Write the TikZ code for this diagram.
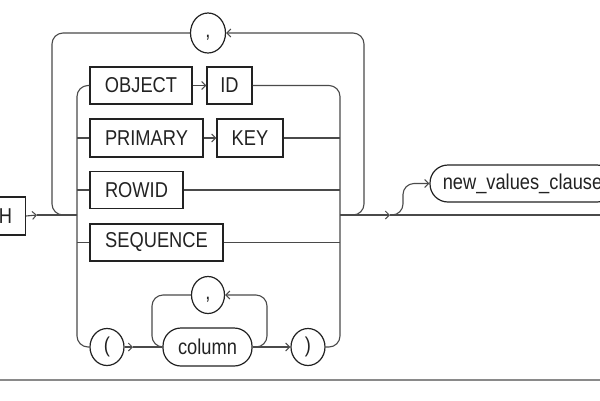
\documentclass[tikz,border=0pt]{standalone}
\usepackage{fontspec}
\setmainfont{Liberation Sans}[FakeStretch=0.85]
\usetikzlibrary{arrows.meta,shapes.geometric}
\definecolor{ln}{HTML}{4A4A4A}
\definecolor{bx}{HTML}{222222}
\definecolor{rule}{HTML}{8A8A8A}
\tikzset{
  conn/.style={draw=ln, line width=1.1pt, rounded corners=11pt},
  tip/.style={-{Straight Barb[length=4pt,width=8pt,line width=1pt]}},
  lbl/.style={font=\fontsize{21.5}{24}\selectfont, text=bx, inner sep=0pt},
  kw/.style={lbl, draw=bx, line width=1.2pt, rectangle},
  ov/.style={lbl, draw=bx, line width=1.2pt, ellipse},
  nt/.style={lbl, draw=bx, line width=1.2pt, rectangle, rounded corners=18pt},
}
\begin{document}
\begin{tikzpicture}[x=1pt,y=-1pt]
\useasboundingbox (0,0) rectangle (600,400);
% nodes
\node[kw, minimum width=40pt, minimum height=38pt, anchor=east] (with) at (26,216) {H};
\node[ov, minimum width=35pt, minimum height=40pt] (c1) at (208,33) {\smash{\raisebox{-4pt}{,}}};
\node[kw, minimum width=102pt, minimum height=37pt] (object) at (141,85.5) {OBJECT};
\node[kw, minimum width=45pt, minimum height=37pt] (id) at (229.5,85.5) {ID};
\node[kw, minimum width=113pt, minimum height=38pt] (primary) at (146.5,138) {PRIMARY};
\node[kw, minimum width=66pt, minimum height=38pt] (key) at (250,138) {KEY};
\node[kw, minimum width=93pt, minimum height=37pt] (rowid) at (136.5,190) {ROWID};
\node[kw, minimum width=133pt, minimum height=37pt] (sequence) at (156.5,242.5) {SEQUENCE};
\node[ov, minimum width=34pt, minimum height=37pt] (lp) at (107,347) {(};
\node[nt, minimum width=89pt, minimum height=38pt] (col) at (207.5,347) {column};
\node[ov, minimum width=34pt, minimum height=37pt] (rp) at (308,347) {)};
\node[ov, minimum width=33pt, minimum height=37pt] (c2) at (208,295) {\smash{\raisebox{-4pt}{,}}};
\node[nt, minimum width=185pt, minimum height=37pt] (nv) at (522.5,183.5) {new\_values\_clause};
% coordinates
\coordinate (m1) at (37,215);
\coordinate (jl) at (77,215);
\coordinate (jr) at (340,215);
\coordinate (m2) at (390,215);
\coordinate (mend) at (605,215);
\coordinate (ltop) at (77,85.5);
\coordinate (lbot) at (77,347);
\coordinate (rtop) at (340,85.5);
\coordinate (rbot) at (340,347);
\coordinate (ol) at (52,33);
\coordinate (olb) at (52,215);
\coordinate (or) at (364,33);
\coordinate (orb) at (364,215);
\coordinate (nb1) at (403,215);
\coordinate (nb2) at (403,183.5);
\coordinate (a3) at (133,347);
\coordinate (cl) at (152,295);
\coordinate (clb) at (152,347);
\coordinate (cr) at (267,295);
\coordinate (crb) at (267,347);
\coordinate (bl) at (0,380);
\coordinate (br) at (600,380);
% main line
\draw[conn,tip] (with.east) -- (m1);
\draw[conn] (m1) -- (jl);
\draw[conn,tip] (jr) -- (m2);
\draw[conn] (m2) -- (mend);
% outer loop
\draw[conn,tip] (jr) -- (orb) -- (or) -- (c1.east);
\draw[conn] (c1.west) -- (ol) -- (olb) -- (jl);
% inner choice
\draw[conn] (object.west) -- (ltop) -- (lbot) -- (lp.west);
\draw[conn] (id.east) -- (rtop) -- (rbot) -- (rp.east);
\draw[conn,tip] (object.east) -- (id.west);
\draw[conn,tip] (primary.east) -- (key.west);
\draw[conn] (primary.west) -- (primary.west -| ltop);
\draw[conn] (rowid.west) -- (rowid.west -| ltop);
\draw[conn] (sequence.west) -- (sequence.west -| ltop);
\draw[conn] (key.east) -- (key.east -| rtop);
\draw[conn] (rowid.east) -- (rowid.east -| rtop);
\draw[conn] (sequence.east) -- (sequence.east -| rtop);
% column list
\draw[conn,tip] (lp.east) -- (a3);
\draw[conn] (a3) -- (col.west);
\draw[conn,tip] (col.east) -- (rp.west);
\draw[conn,tip] (col.east) -- (crb) -- (cr) -- (c2.east);
\draw[conn] (c2.west) -- (cl) -- (clb) -- (col.west);
% optional new_values_clause
\draw[conn,tip] (m2) -- (nb1) -- (nb2) -- (nv.west);
% bottom rule
\draw[draw=rule, line width=2pt] (bl) -- (br);
\end{tikzpicture}
\end{document}
